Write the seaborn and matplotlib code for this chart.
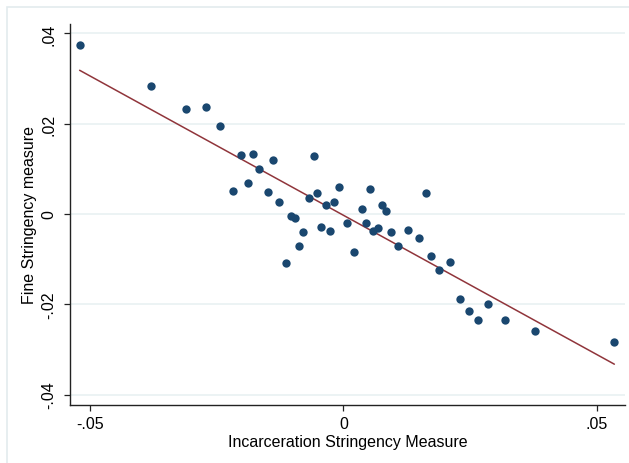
import numpy as np
import pandas as pd
import matplotlib
matplotlib.use("Agg")
import matplotlib.pyplot as plt
import seaborn as sns
from matplotlib.patches import Rectangle

incarceration = [-0.0520, -0.0379, -0.0310, -0.0271, -0.0244, -0.0217, -0.0202, -0.0188,
                 -0.0179, -0.0167, -0.0148, -0.0138, -0.0127, -0.0104, -0.0095, -0.0080,
                 -0.0068, -0.0058, -0.0052, -0.0045, -0.0087, -0.0113, -0.0008, 0.0052,
                 0.0162, -0.0035, -0.0019, 0.0036, 0.0076, 0.0083, -0.0026, 0.0007,
                 0.0045, 0.0068, 0.0059, 0.0093, 0.0128, 0.0148, 0.0108, 0.0021,
                 0.0172, 0.0210, 0.0188, 0.0229, 0.0285, 0.0247, 0.0265, 0.0319,
                 0.0378, 0.0534]
fine = [0.0374, 0.0284, 0.0232, 0.0238, 0.0194, 0.0052, 0.0131, 0.0069,
        0.0133, 0.0099, 0.0049, 0.0120, 0.0027, -0.0004, -0.0008, -0.0039,
        0.0036, 0.0128, 0.0047, -0.0029, -0.0071, -0.0109, 0.0060, 0.0056,
        0.0047, 0.0021, 0.0027, 0.0011, 0.0021, 0.0006, -0.0037, -0.0019,
        -0.0019, -0.0030, -0.0037, -0.0040, -0.0035, -0.0052, -0.0071, -0.0083,
        -0.0092, -0.0106, -0.0124, -0.0188, -0.0200, -0.0215, -0.0235, -0.0234,
        -0.0258, -0.0284]

x_ticks = [-0.05, 0.0, 0.05]
x_tick_labels = ["-.05", "0", ".05"]
y_ticks = [-0.04, -0.02, 0.0, 0.02, 0.04]
y_tick_labels = ["-.04", "-.02", "0", ".02", ".04"]

df = pd.DataFrame({"x": incarceration, "y": fine})

sns.set_theme(style="white")
plt.rcParams['font.family'] = ['Liberation Sans', 'DejaVu Sans']

fig = plt.figure(figsize=(6.29, 4.64), dpi=100)
fig.patch.set_facecolor("white")
fig.patches.append(Rectangle((7 / 629, -0.1), 2.0, (464 - 8) / 464 + 0.1,
                             transform=fig.transFigure, fill=False,
                             edgecolor="#e3ebee", linewidth=1.2, zorder=0))

ax = fig.add_axes([70 / 629, 1 - 406 / 464, (625 - 70) / 629, (406 - 25) / 464])
ax.set_facecolor("white")

sns.regplot(data=df, x="x", y="y", ax=ax, ci=None,
            scatter_kws=dict(s=36, color="#1a476f", linewidths=0, alpha=1, zorder=3),
            line_kws=dict(color="#90353b", linewidth=1.1, zorder=2))

ax.set_xlim(-0.0539, 0.0555)
ax.set_ylim(-0.0423, 0.0421)
ax.set_xticks(x_ticks)
ax.set_xticklabels(x_tick_labels)
ax.set_yticks(y_ticks)
ax.set_yticklabels(y_tick_labels, rotation=90, va="center")

ax.yaxis.grid(True, color="#eaf2f3", linewidth=1.3, zorder=0)
ax.xaxis.grid(False)
ax.set_axisbelow(True)

for side in ["top", "right"]:
    ax.spines[side].set_visible(False)
for side in ["left", "bottom"]:
    ax.spines[side].set_color("#222222")
    ax.spines[side].set_linewidth(1.0)

ax.tick_params(axis="both", direction="out", length=4.3, width=0.9, color="#222222",
               labelsize=11.5, labelcolor="black", left=True, bottom=True)
ax.tick_params(axis="y", pad=5.5)
ax.tick_params(axis="x", pad=3.3)

ax.set_xlabel("Incarceration Stringency Measure", fontsize=11.5, color="black", labelpad=2.5)
ax.set_ylabel("Fine Stringency measure", fontsize=11.5, color="black", labelpad=3)

fig.savefig("out.png", dpi=100)
